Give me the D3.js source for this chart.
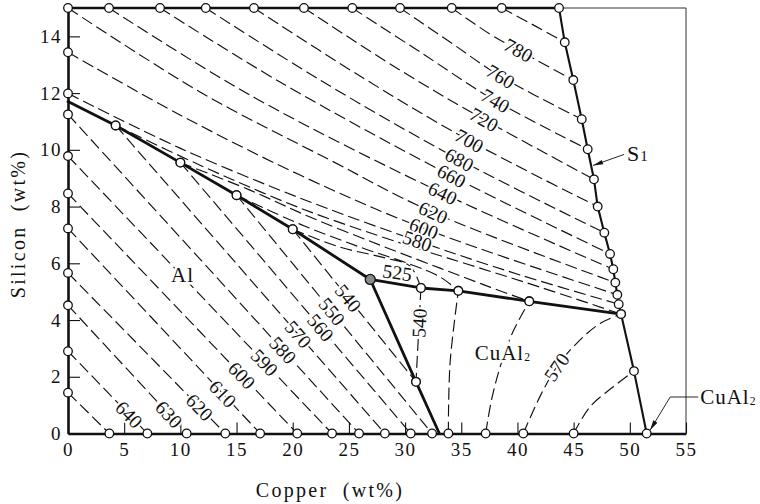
<!DOCTYPE html>
<html>
<head>
<meta charset="utf-8">
<script src="https://cdn.jsdelivr.net/npm/d3@7"></script>
<style>
  html, body { margin: 0; padding: 0; background: #fff; }
  svg { display: block; }
  text { font-family: "Liberation Serif", "Times New Roman", serif; fill: #111; }
</style>
</head>
<body>
<svg id="chart" width="760" height="504"></svg>
<script>
// ---- Al-Cu-Si liquidus projection, compositions as [Cu wt%, Si wt%] ----

const xTicks = [0, 5, 10, 15, 20, 25, 30, 35, 40, 45, 50, 55];
const yTicks = [0, 2, 4, 6, 8, 10, 12, 14];

// isotherms in the primary Al field (°C)
const alTemps = [650, 640, 630, 620, 610, 600, 590, 580, 570, 560, 550, 540];
const alLines = [
  [[0, 1.44], [3.68, 0]],
  [[0, 2.90], [7.06, 0]],
  [[0, 4.52], [10.56, 0]],
  [[0, 5.66], [14.0, 0]],
  [[0, 7.23], [17.1, 0]],
  [[0, 8.46], [20.4, 0]],
  [[0, 9.78], [23.5, 0]],
  [[0, 11.25], [25.9, 0]],
  [[4.24, 10.86], [28.2, 0]],
  [[10, 9.55], [30.5, 0]],
  [[15, 8.40], [32.4, 0]],
  [[20, 7.20], [30.97, 1.82]]
];

// isotherms in the primary Si field (°C)
const siTemps = [800, 780, 760, 740, 720, 700, 680, 660, 640, 620, 600, 580, 570, 560, 550, 540];
const siLines = [
  [[38.60, 15], [41.56, 14.37], [44.21, 13.79]],
  [[34.15, 15], [37.56, 14.08], [40.05, 13.52], [44.97, 12.46]],
  [[29.55, 15], [34.00, 13.80], [38.45, 12.60], [45.72, 11.08]],
  [[25.30, 15], [31.33, 13.45], [37.91, 11.76], [46.25, 10.02]],
  [[21.00, 15], [29.55, 12.81], [36.93, 11.09], [46.81, 8.96]],
  [[16.55, 15], [25.99, 12.60], [35.60, 10.35], [47.14, 8.00]],
  [[12.26, 15], [22.43, 12.46], [34.71, 9.68], [47.73, 7.08]],
  [[8.19, 15], [18.87, 12.39], [34.00, 9.11], [48.24, 6.33]],
  [[3.65, 15], [16.20, 11.93], [33.29, 8.48], [48.53, 5.79]],
  [[0, 15], [11.75, 12.04], [23.32, 9.64], [32.40, 7.81], [48.71, 5.32]],
  [[0, 13.44], [9.97, 11.23], [20.65, 9.11], [31.60, 7.24], [48.89, 4.89]],
  [[0, 11.99], [9.97, 10.06], [20.65, 8.30], [30.88, 6.82], [40.23, 5.59], [49.01, 4.56]],
  [[4.24, 10.86], [11.75, 9.46], [20.65, 7.95], [29.55, 6.72], [35.78, 5.94], [42.01, 5.16], [49.22, 4.21]],
  [[10, 9.55], [16.20, 8.58], [21.54, 7.63], [27.77, 6.64], [33.11, 5.83], [37.56, 5.16], [41.05, 4.66]],
  [[15, 8.40], [20.65, 7.38], [25.99, 6.57], [30.44, 5.97], [33.11, 5.52], [34.74, 5.03]],
  [[20, 7.20], [24.21, 6.57], [28.21, 6.19], [30.44, 5.90], [31.41, 5.13]]
];

// isotherms in the primary CuAl2 field (°C)
const cuTemps = [540, 550, 560, 570, 580];
const cuLines = [
  [[31.41, 5.13], [30.97, 1.82]],
  [[33.85, 0], [34.00, 2.47], [34.74, 5.03]],
  [[37.17, 0], [37.70, 1.20], [38.50, 2.40], [39.50, 3.50], [41.05, 4.66]],
  [[40.52, 0], [42.00, 1.30], [43.50, 2.35], [45.27, 3.18], [47.35, 3.88], [49.22, 4.21]],
  [[45.00, 0], [46.45, 0.94], [48.50, 1.64], [50.37, 2.20]]
];

// univariant troughs and field boundaries
const troughAlSi = [[0, 11.70], [4.24, 10.86], [10, 9.55], [15, 8.40], [20, 7.20], [26.9, 5.43]];
const troughAlCuAl2 = [[26.9, 5.43], [30.97, 1.82], [33.05, 0]];
const troughSiCuAl2 = [[26.9, 5.43], [31.41, 5.13], [34.74, 5.03], [41.05, 4.66], [49.22, 4.21]];
const boundaryS1 = [
  [43.70, 15], [44.21, 13.79], [44.97, 12.46], [45.72, 11.08], [46.25, 10.02],
  [46.81, 8.96], [47.14, 8.00], [47.73, 7.08], [48.24, 6.33], [48.53, 5.79],
  [48.71, 5.32], [48.89, 4.89], [49.01, 4.56], [49.22, 4.21], [50.37, 2.20], [51.50, 0]
];

// ternary eutectic
const eutectic = [26.9, 5.43];
const eutecticTemp = 525;

// primary phase field names
const fieldNames = ["Al", "CuAl2"];
const fieldCentres = [[10.2, 5.6], [38.7, 2.85]];

// ---- layout ----
const W = 760, H = 504;
const svg = d3.select("#chart");
svg.append("rect").attr("width", W).attr("height", H).attr("fill", "#fff");

const x = d3.scaleLinear().domain([0, 55]).range([68, 686]);
const y = d3.scaleLinear().domain([0, 15]).range([433.5, 8]);

const straight = d3.line().x(d => x(d[0])).y(d => y(d[1]));
const smooth = d3.line().x(d => x(d[0])).y(d => y(d[1])).curve(d3.curveCatmullRom.alpha(0.5));

const INK = "#111";

// where each isotherm label sits along its line
const alLabelSpots = {640: [5.37, 0.65], 630: [9.23, 0.76], 620: [11.75, 0.94], 610: [13.82, 1.42],
  600: [15.46, 2.06], 590: [17.38, 2.47], 580: [18.93, 2.88], 570: [20.27, 3.41],
  560: [22.28, 3.67], 550: [23.41, 4.28], 540: [24.95, 4.77]};
const siLabelSpots = {780: [40.08, 13.52], 760: [38.45, 12.56], 740: [37.91, 11.65], 720: [36.93, 10.98],
  700: [35.60, 10.24], 680: [34.71, 9.57], 660: [34.0, 9.0], 640: [33.29, 8.42],
  620: [32.40, 7.70], 600: [31.60, 7.17], 580: [30.88, 6.58]};
const cuLabelSpots = {540: [31.2, 3.9], 570: [43.5, 2.35]};

// thin outer frame on the top-right
svg.append("path")
  .attr("d", straight([[boundaryS1[0][0], 15], [55, 15], [55, 0]]))
  .attr("fill", "none").attr("stroke", "#333").attr("stroke-width", 1);

// dashed isotherms
const isoLayer = svg.append("g")
  .attr("fill", "none").attr("stroke", INK)
  .attr("stroke-width", 1.15).attr("stroke-dasharray", "12,5");

function drawSet(lines, temps, gen) {
  return lines.map((pts, i) => {
    const p = isoLayer.append("path").attr("d", gen(pts));
    return {node: p.node(), temp: temps[i]};
  });
}
const alPaths = drawSet(alLines, alTemps, straight);
const siPaths = drawSet(siLines, siTemps, smooth);
const cuPaths = drawSet(cuLines, cuTemps, smooth);

// troughs
const bLayer = svg.append("g").attr("fill", "none").attr("stroke", INK)
  .attr("stroke-linejoin", "round").attr("stroke-linecap", "round");
[troughAlSi, troughAlCuAl2, troughSiCuAl2].forEach(t =>
  bLayer.append("path").attr("d", straight(t)).attr("stroke-width", 2.8));
bLayer.append("path").attr("d", straight(boundaryS1)).attr("stroke-width", 2.1);

// heavy top edge up to the S1 boundary
bLayer.append("path")
  .attr("d", straight([[0, 15], [boundaryS1[0][0], 15]]))
  .attr("stroke-width", 2.6);

// axes
const xAxis = d3.axisBottom(x).tickValues(xTicks).tickSize(-11).tickSizeOuter(0).tickPadding(9);
const gx = svg.append("g").attr("transform", `translate(0,${y(0)})`).call(xAxis);
const yAxis = d3.axisLeft(y).tickValues(yTicks).tickSize(-12).tickSizeOuter(0).tickPadding(6);
const gy = svg.append("g").attr("transform", `translate(${x(0)},0)`).call(yAxis);
[gx, gy].forEach(g => {
  g.attr("font-family", "Liberation Serif, serif").attr("font-size", 19);
  g.select(".domain").attr("stroke", INK).attr("stroke-width", 2.6);
  g.selectAll(".tick line").attr("stroke", INK).attr("stroke-width", 1.1);
  g.selectAll(".tick text").attr("fill", INK).attr("letter-spacing", "1.5px");
});

// axis titles
svg.append("text")
  .attr("x", 330).attr("y", 497)
  .attr("text-anchor", "middle").attr("font-size", 20)
  .attr("letter-spacing", "2.3px").attr("word-spacing", "7px")
  .text("Copper (wt%)");
svg.append("text")
  .attr("transform", "translate(25,224) rotate(-90)")
  .attr("text-anchor", "middle").attr("font-size", 20)
  .attr("letter-spacing", "2.3px").attr("word-spacing", "7px")
  .text("Silicon (wt%)");

// data points on the isotherm ends
const nodes = [];
[alLines, siLines, cuLines].forEach(set => set.forEach(p => nodes.push(p[0], p[p.length - 1])));
nodes.push(boundaryS1[0], boundaryS1[boundaryS1.length - 1]);
svg.append("g").selectAll("circle").data(nodes).join("circle")
  .attr("cx", d => x(d[0])).attr("cy", d => y(d[1])).attr("r", 4.3)
  .attr("fill", "#fff").attr("stroke", INK).attr("stroke-width", 1.3);

// ternary eutectic point
svg.append("circle")
  .attr("cx", x(eutectic[0])).attr("cy", y(eutectic[1])).attr("r", 5)
  .attr("fill", "#8a8a8a").attr("stroke", INK).attr("stroke-width", 1.3);

// isotherm labels laid along their lines
const labelLayer = svg.append("g").attr("font-size", 19.5);
function labelOnPath(node, spot, txt) {
  const L = node.getTotalLength();
  const ax = x(spot[0]), ay = y(spot[1]);
  let best = 0, bd = Infinity;
  for (let l = 0; l <= L; l += 0.5) {
    const p = node.getPointAtLength(l);
    const d = (p.x - ax) ** 2 + (p.y - ay) ** 2;
    if (d < bd) { bd = d; best = l; }
  }
  const p = node.getPointAtLength(best);
  const p1 = node.getPointAtLength(Math.max(0, best - 4));
  const p2 = node.getPointAtLength(Math.min(L, best + 4));
  let ang = Math.atan2(p2.y - p1.y, p2.x - p1.x) * 180 / Math.PI;
  if (ang > 90) ang -= 180;
  if (ang < -90) ang += 180;
  labelLayer.append("text")
    .attr("transform", `translate(${p.x},${p.y}) rotate(${ang})`)
    .attr("text-anchor", "middle").attr("dy", "0.35em")
    .attr("stroke", "#fff").attr("stroke-width", 4).attr("stroke-linejoin", "round")
    .attr("paint-order", "stroke")
    .text(txt);
}
function labelSet(paths, spots) {
  paths.forEach(p => { if (spots[p.temp]) labelOnPath(p.node, spots[p.temp], p.temp); });
}
labelSet(alPaths, alLabelSpots);
labelSet(siPaths, siLabelSpots);
labelSet(cuPaths, cuLabelSpots);

// eutectic temperature
labelLayer.append("text")
  .attr("transform", `translate(${x(eutectic[0]) + 27},${y(eutectic[1]) - 7}) rotate(8)`)
  .attr("text-anchor", "middle").attr("dy", "0.35em")
  .attr("stroke", "#fff").attr("stroke-width", 4).attr("paint-order", "stroke")
  .text(eutecticTemp);

// phase field names
function phaseText(sel, name, size) {
  const m = name.match(/^([A-Za-z]+)(\d*)$/);
  sel.append("tspan").text(m[1]);
  if (m[2]) sel.append("tspan").attr("font-size", size * 0.55).attr("dy", 1).text(m[2]);
}
fieldNames.forEach((n, i) => {
  const t = svg.append("text")
    .attr("x", x(fieldCentres[i][0])).attr("y", y(fieldCentres[i][1]))
    .attr("text-anchor", "middle").attr("dy", "0.35em")
    .attr("font-size", 21).attr("letter-spacing", "1px")
    .attr("stroke", "#fff").attr("stroke-width", 5).attr("paint-order", "stroke");
  phaseText(t, n, 21);
});

// leaders with arrowheads
function arrowHead(tip, from, len, half) {
  const dx = tip[0] - from[0], dy = tip[1] - from[1];
  const d = Math.hypot(dx, dy), ux = dx / d, uy = dy / d;
  const bx = tip[0] - ux * len, by = tip[1] - uy * len;
  svg.append("path")
    .attr("d", `M${tip[0]},${tip[1]}L${bx - uy * half},${by + ux * half}L${bx + uy * half},${by - ux * half}Z`)
    .attr("fill", INK);
}

// S1 boundary callout
const s1Si = 9.45;
const s1Seg = d3.pairs(boundaryS1).find(([a, b]) => a[1] >= s1Si && b[1] <= s1Si);
const s1Cu = s1Seg[0][0] + (s1Seg[1][0] - s1Seg[0][0]) * (s1Seg[0][1] - s1Si) / (s1Seg[0][1] - s1Seg[1][1]);
const s1Tip = [x(s1Cu) + 2, y(s1Si)];
const s1End = [s1Tip[0] + 31, s1Tip[1] - 11];
svg.append("path").attr("d", `M${s1Tip[0]},${s1Tip[1]}L${s1End[0]},${s1End[1]}`)
  .attr("stroke", INK).attr("stroke-width", 0.9);
arrowHead(s1Tip, s1End, 10, 2.2);
const s1Label = svg.append("text").attr("x", s1End[0] + 3).attr("y", s1End[1] + 7).attr("font-size", 22);
s1Label.append("tspan").text("S");
s1Label.append("tspan").attr("font-size", 15).attr("dx", 1).text("1");

// CuAl2 compound callout
const cuPt = boundaryS1[boundaryS1.length - 1];
const cTip = [x(cuPt[0]) + 3.5, y(cuPt[1]) - 3.5];
const cKnee = [cTip[0] + 20, cTip[1] - 33];
const cEnd = [cKnee[0] + 28, cKnee[1]];
svg.append("path")
  .attr("d", `M${cTip[0]},${cTip[1]}L${cKnee[0]},${cKnee[1]}L${cEnd[0]},${cEnd[1]}`)
  .attr("fill", "none").attr("stroke", INK).attr("stroke-width", 0.9);
arrowHead(cTip, cKnee, 10, 2.4);
const cLabel = svg.append("text").attr("x", cEnd[0] + 2).attr("y", cEnd[1]).attr("dy", "0.35em")
  .attr("font-size", 21).attr("letter-spacing", "1px");
phaseText(cLabel, "CuAl2", 21);
</script>
</body>
</html>
